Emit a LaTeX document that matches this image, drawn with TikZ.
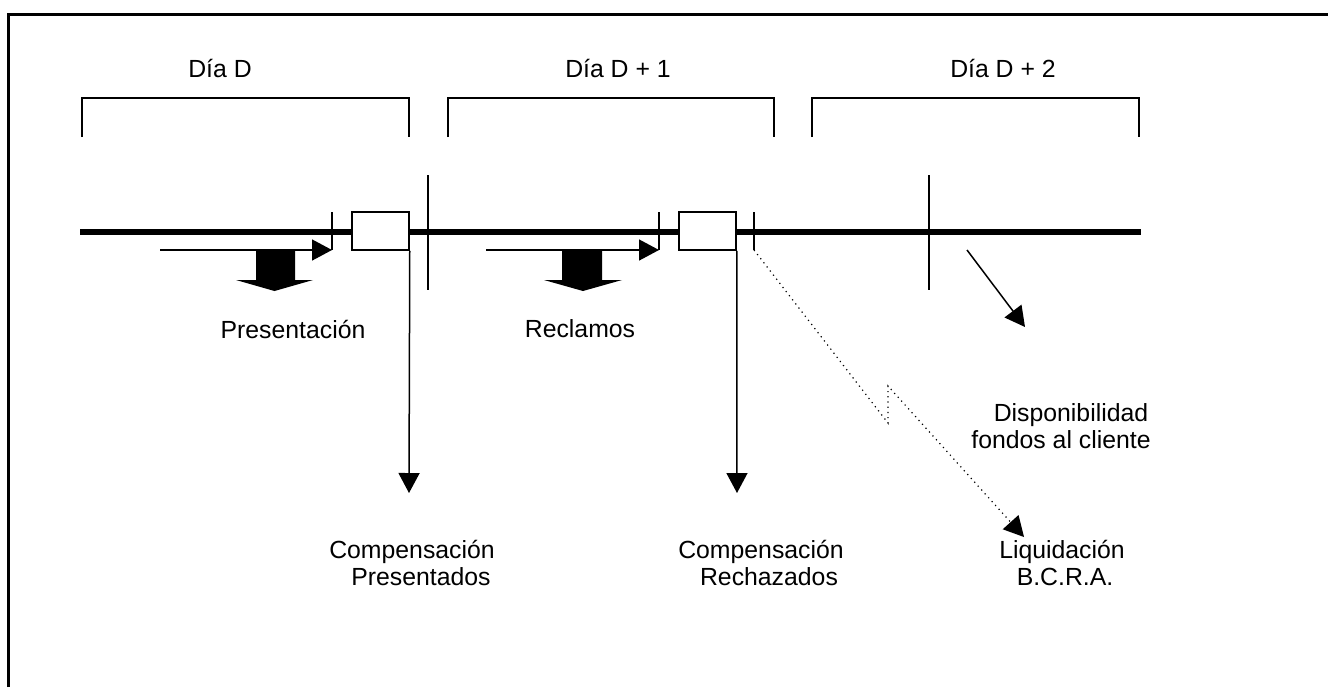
\documentclass[tikz,border=0pt]{standalone}
\usepackage{fontspec}
\setmainfont{Liberation Sans}
\usetikzlibrary{arrows.meta}
\begin{document}
\begin{tikzpicture}[x={(0.5pt,0)},y={(0,-0.5pt)},
  frame/.style={line width=1.3pt},
  bracket/.style={line width=0.65pt},
  timeline/.style={line width=2.8pt},
  thin/.style={line width=0.75pt},
  tick/.style={line width=0.75pt},
  tri/.style={-{Triangle[length=10pt,width=10.5pt]}},
  boxnode/.style={draw,fill=white,line width=0.75pt,minimum width=28.5pt,minimum height=19pt,inner sep=0pt},
  lbl/.style={font=\fontsize{12.4pt}{13.5pt}\selectfont,inner sep=0pt},
  block/.style={fill=black,draw=none}]
\useasboundingbox (0,0) rectangle (1328,687);
% frame (top and left edges)
\draw[frame] (8.5,687) -- (8.5,14.5) -- (1328,14.5);
% day labels
\node[lbl] (d0) at (220,68) {Día D};
\node[lbl] (d1) at (618,68) {Día D + 1};
\node[lbl] (d2) at (1003,68) {Día D + 2};
% brackets
\draw[bracket] (82,137) -- (82,98) -- (409,98) -- (409,137);
\draw[bracket] (448,137) -- (448,98) -- (774,98) -- (774,137);
\draw[bracket] (812,137) -- (812,98) -- (1139,98) -- (1139,137);
% timeline
\coordinate (tlL) at (80,232);
\coordinate (tlR) at (1141,232);
\draw[timeline] (tlL) -- (tlR);
% ticks
\coordinate (t1a) at (332,212); \coordinate (t1b) at (332,250);
\coordinate (t2a) at (428,175); \coordinate (t2b) at (428,290);
\coordinate (t3a) at (659,212); \coordinate (t3b) at (659,250);
\coordinate (t4a) at (754,212); \coordinate (t4b) at (754,250);
\coordinate (t5a) at (929,175); \coordinate (t5b) at (929,290);
\draw[tick] (t1a) -- (t1b);
\draw[tick] (t2a) -- (t2b);
\draw[tick] (t3a) -- (t3b);
\draw[tick] (t4a) -- (t4b);
\draw[tick] (t5a) -- (t5b);
% boxes
\node[boxnode] (box1) at (380.5,231) {};
\node[boxnode] (box2) at (707.5,231) {};
% thin arrows
\coordinate (a1s) at (160,250);
\coordinate (a2s) at (486,250);
\draw[thin,tri] (a1s) -- (t1b);
\draw[thin,tri] (a2s) -- (t3b);
% block arrows
\fill[block] (256,250) -- (295,250) -- (295,280) -- (313,280) -- (274.5,291) -- (236,280) -- (256,280) -- cycle;
\fill[block] (562,250) -- (602,250) -- (602,280) -- (622,280) -- (583,291) -- (544,280) -- (562,280) -- cycle;
% labels under block arrows
\node[lbl] (pres) at (293,329) {Presentación};
\node[lbl] (recl) at (580,329) {Reclamos};
% vertical arrows from boxes
\coordinate (v1) at (409,493);
\coordinate (v2) at (737,493);
\draw[thin,tri] (box1.south east) -- (v1);
\draw[thin,tri] (box2.south east) -- (v2);
% bottom labels
\node[lbl,anchor=base] (cp1) at (412,558) {Compensación};
\node[lbl,anchor=base] (cp2) at (421,585) {Presentados};
\node[lbl,anchor=base] (cr1) at (761,558) {Compensación};
\node[lbl,anchor=base] (cr2) at (769,585) {Rechazados};
\node[lbl,anchor=base] (lq1) at (1062,558) {Liquidación};
\node[lbl,anchor=base] (lq2) at (1065,585) {B.C.R.A.};
% disponibilidad arrow
\coordinate (ds) at (967,250);
\coordinate (de) at (1025,327);
\draw[thin,tri] (ds) -- (de);
\node[lbl,anchor=base] (disp1) at (1071,421) {Disponibilidad};
\node[lbl,anchor=base] (disp2) at (1061,448) {fondos al cliente};
% dotted zigzag to liquidacion
\coordinate (z1) at (888,423);
\coordinate (z2) at (888,386);
\coordinate (ze) at (1024,537);
\draw[line width=0.6pt,dotted,-{Triangle[length=10pt,width=10.5pt]}] (t4b) -- (z1) -- (z2) -- (ze);
\end{tikzpicture}
\end{document}
